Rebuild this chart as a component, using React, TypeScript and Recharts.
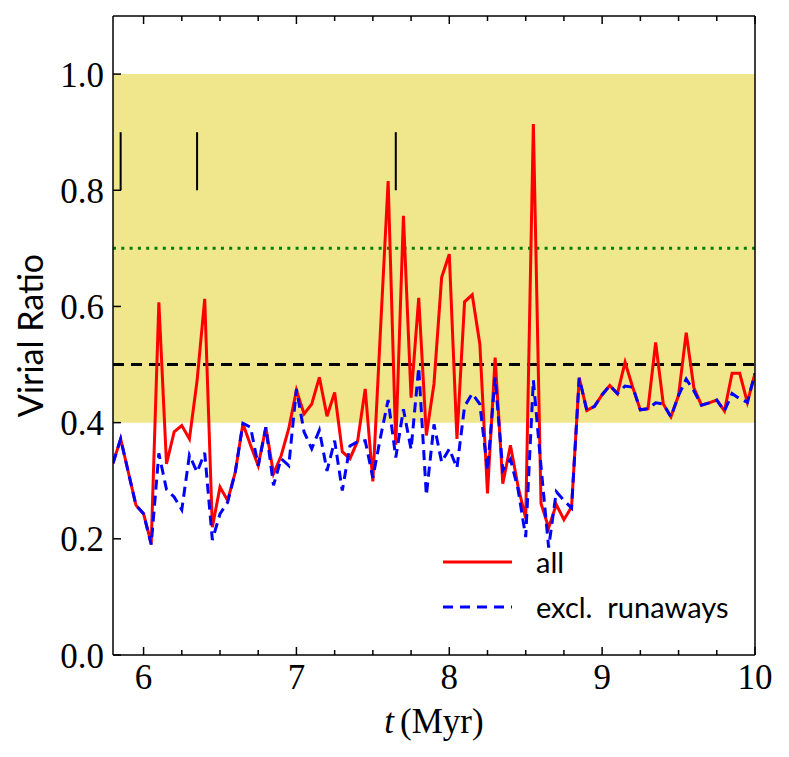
import React from 'react';
import {
  LineChart,
  Line,
  XAxis,
  YAxis,
  ReferenceArea,
  ReferenceLine,
  Legend,
} from 'recharts';

// time samples (Myr)
const times = [
  5.8, 5.85, 5.9, 5.95, 6.0, 6.05, 6.1, 6.15, 6.2, 6.25, 6.3, 6.35, 6.4, 6.45, 6.5, 6.55, 6.6,
  6.65, 6.7, 6.75, 6.8, 6.85, 6.9, 6.95, 7.0, 7.05, 7.1, 7.15, 7.2, 7.25, 7.3, 7.35, 7.4, 7.45,
  7.5, 7.55, 7.6, 7.65, 7.7, 7.75, 7.8, 7.85, 7.9, 7.95, 8.0, 8.05, 8.1, 8.15, 8.2, 8.25, 8.3,
  8.35, 8.4, 8.45, 8.5, 8.55, 8.6, 8.65, 8.7, 8.75, 8.8, 8.85, 8.9, 8.95, 9.0, 9.05, 9.1, 9.15,
  9.2, 9.25, 9.3, 9.35, 9.4, 9.45, 9.5, 9.55, 9.6, 9.65, 9.7, 9.75, 9.8, 9.85, 9.9, 9.95, 10.0,
];

// virial ratio, all stars
const allRatio = [
  0.33, 0.372, 0.315, 0.258, 0.243, 0.192, 0.607, 0.329, 0.384, 0.395, 0.372, 0.472, 0.613,
  0.22, 0.289, 0.266, 0.315, 0.398, 0.361, 0.326, 0.392, 0.312, 0.343, 0.39, 0.456, 0.415,
  0.432, 0.478, 0.411, 0.452, 0.35, 0.338, 0.368, 0.458, 0.299, 0.56, 0.816, 0.362, 0.756,
  0.443, 0.615, 0.378, 0.467, 0.65, 0.69, 0.372, 0.608, 0.62, 0.535, 0.278, 0.512, 0.295,
  0.361, 0.29, 0.235, 0.914, 0.261, 0.219, 0.259, 0.233, 0.255, 0.477, 0.421, 0.428, 0.448,
  0.464, 0.45, 0.504, 0.461, 0.422, 0.424, 0.538, 0.432, 0.41, 0.447, 0.555, 0.46, 0.43,
  0.434, 0.439, 0.42, 0.485, 0.485, 0.435, 0.485,
];

// virial ratio, runaways excluded
const exclRatio = [
  0.33, 0.372, 0.315, 0.258, 0.243, 0.19, 0.347, 0.285, 0.272, 0.25, 0.344, 0.315, 0.348,
  0.198, 0.243, 0.263, 0.315, 0.399, 0.392, 0.326, 0.392, 0.292, 0.338, 0.326, 0.458, 0.384,
  0.355, 0.387, 0.317, 0.369, 0.283, 0.36, 0.367, 0.369, 0.305, 0.375, 0.439, 0.34, 0.423,
  0.354, 0.495, 0.275, 0.397, 0.332, 0.355, 0.322, 0.428, 0.45, 0.432, 0.318, 0.478, 0.318,
  0.337, 0.285, 0.203, 0.473, 0.325, 0.185, 0.281, 0.266, 0.253, 0.477, 0.421, 0.428, 0.448,
  0.464, 0.45, 0.463, 0.461, 0.422, 0.424, 0.434, 0.432, 0.41, 0.447, 0.475, 0.455, 0.43,
  0.434, 0.439, 0.42, 0.45, 0.441, 0.435, 0.485,
];

const xMajorTicks = [6, 7, 8, 9, 10];
const xAllTicks = [
  6, 6.25, 6.5, 6.75, 7, 7.25, 7.5, 7.75, 8, 8.25, 8.5, 8.75, 9, 9.25, 9.5, 9.75, 10,
];
const yTicks = [0, 0.2, 0.4, 0.6, 0.8, 1.0];

// marker segments near the top
const markerTimes = [5.85, 6.35, 7.65];
const markerRange = [0.8, 0.9];

const data = times.map((t, i) => ({ t, all: allRatio[i], excl: exclRatio[i] }));

const SERIF = '"Liberation Serif", "Times New Roman", serif';
const SANS = 'Lato, "Open Sans", sans-serif';
const MX = 8; // x tick label margin
const MY = 9; // y tick label margin
const MAJOR = 8;
const MINOR = 5;

const BottomTick = (props: any) => {
  const { x, y, payload } = props;
  const major = xMajorTicks.includes(payload.value);
  const ay = y - MX;
  return (
    <g>
      <line x1={x} x2={x} y1={ay} y2={ay - (major ? MAJOR : MINOR)} stroke="#000" strokeWidth={1.5} />
      {major && (
        <text x={x} y={y} dy="0.75em" textAnchor="middle" fontFamily={SERIF} fontSize={35} fill="#000">
          {payload.value}
        </text>
      )}
    </g>
  );
};

const TopTick = (props: any) => {
  const { x, y, payload } = props;
  const major = xMajorTicks.includes(payload.value);
  return <line x1={x} x2={x} y1={y} y2={y + (major ? MAJOR : MINOR)} stroke="#000" strokeWidth={1.5} />;
};

const LeftTick = (props: any) => {
  const { x, y, payload } = props;
  const ax = x + MY;
  return (
    <g>
      <line x1={ax} x2={ax + MAJOR} y1={y} y2={y} stroke="#000" strokeWidth={1.5} />
      <text x={x} y={y} dy="0.36em" textAnchor="end" fontFamily={SERIF} fontSize={35} fill="#000">
        {payload.value.toFixed(1)}
      </text>
    </g>
  );
};

const RightTick = (props: any) => {
  const { x, y } = props;
  return <line x1={x} x2={x - MAJOR} y1={y} y2={y} stroke="#000" strokeWidth={1.5} />;
};

const YLabel = (props: any) => {
  const vb = props.viewBox;
  const cx = vb.x + 43;
  const cy = vb.y + vb.height / 2;
  return (
    <text x={cx} y={cy} transform={`rotate(-90, ${cx}, ${cy})`} textAnchor="middle" fontFamily={SANS} fontSize={34} fill="#000">
      Virial Ratio
    </text>
  );
};

const XLabel = (props: any) => {
  const vb = props.viewBox;
  const cx = vb.x + vb.width / 2;
  return (
    <text x={cx} y={vb.y + 78} textAnchor="middle" fontFamily={SERIF} fontSize={35} fill="#000">
      <tspan fontStyle="italic">t</tspan>
      <tspan dx={6}>(Myr)</tspan>
    </text>
  );
};

const renderLegend = (props: any) => {
  const items = props.payload || [];
  return (
    <svg width={320} height={95}>
      {items.map((it: any, i: number) => {
        const ly = 22 + i * 45;
        return (
          <g key={i}>
            <line
              x1={0}
              x2={69}
              y1={ly}
              y2={ly}
              stroke={it.color}
              strokeWidth={3}
              strokeDasharray={i === 1 ? '10 7' : undefined}
            />
            <text x={93} y={ly + 11} fontFamily={SANS} fontSize={29} fill="#000" style={{ whiteSpace: 'pre' }}>
              {it.value}
            </text>
          </g>
        );
      })}
    </svg>
  );
};

export default function App() {
  return (
    <div style={{ position: 'absolute', left: 0, top: 0, background: '#fff' }}>
      <LineChart width={789} height={757} data={data} margin={{ top: 15, right: 33, bottom: 0, left: 0 }}>
        <ReferenceArea xAxisId="b" yAxisId="l" y1={0.4} y2={1.0} fill="#f0e68c" fillOpacity={1} stroke="none" />
        <ReferenceLine xAxisId="b" yAxisId="l" y={0.7} stroke="#008000" strokeWidth={3} strokeDasharray="3 5.3" />
        <ReferenceLine xAxisId="b" yAxisId="l" y={0.5} stroke="#000" strokeWidth={3} strokeDasharray="11 7" />
        {markerTimes.map((mt) => (
          <ReferenceLine
            key={mt}
            xAxisId="b"
            yAxisId="l"
            segment={[
              { x: mt, y: markerRange[0] },
              { x: mt, y: markerRange[1] },
            ]}
            stroke="#000"
            strokeWidth={2}
          />
        ))}
        <Line
          xAxisId="b"
          yAxisId="l"
          type="linear"
          dataKey="all"
          name="all"
          stroke="#ff0000"
          strokeWidth={3}
          dot={false}
          activeDot={false}
          isAnimationActive={false}
        />
        <Line
          xAxisId="b"
          yAxisId="l"
          type="linear"
          dataKey="excl"
          name="excl.  runaways"
          stroke="#0000ff"
          strokeWidth={3}
          strokeDasharray="10 6"
          dot={false}
          activeDot={false}
          isAnimationActive={false}
        />
        <XAxis
          xAxisId="b"
          dataKey="t"
          type="number"
          domain={[5.8, 10]}
          allowDataOverflow
          ticks={xAllTicks}
          interval={0}
          height={102}
          tickSize={0}
          tickMargin={MX}
          tick={BottomTick}
          axisLine={{ stroke: '#000', strokeWidth: 1.5 }}
          label={XLabel}
        />
        <XAxis
          xAxisId="t"
          orientation="top"
          dataKey="t"
          type="number"
          domain={[5.8, 10]}
          allowDataOverflow
          ticks={xAllTicks}
          interval={0}
          height={1}
          tickSize={0}
          tickMargin={0}
          tick={TopTick}
          axisLine={{ stroke: '#000', strokeWidth: 1.5 }}
        />
        <YAxis
          yAxisId="l"
          type="number"
          domain={[0, 1.1]}
          ticks={yTicks}
          interval={0}
          width={113}
          tickSize={0}
          tickMargin={MY}
          tick={LeftTick}
          axisLine={{ stroke: '#000', strokeWidth: 1.5 }}
          label={YLabel}
        />
        <YAxis
          yAxisId="r"
          orientation="right"
          type="number"
          domain={[0, 1.1]}
          ticks={yTicks}
          interval={0}
          width={1}
          tickSize={0}
          tickMargin={0}
          tick={RightTick}
          axisLine={{ stroke: '#000', strokeWidth: 1.5 }}
        />
        <Legend
          layout="vertical"
          align="center"
          verticalAlign="middle"
          content={renderLegend}
          wrapperStyle={{ left: 443, top: 540, width: 320, height: 95 }}
        />
      </LineChart>
    </div>
  );
}
